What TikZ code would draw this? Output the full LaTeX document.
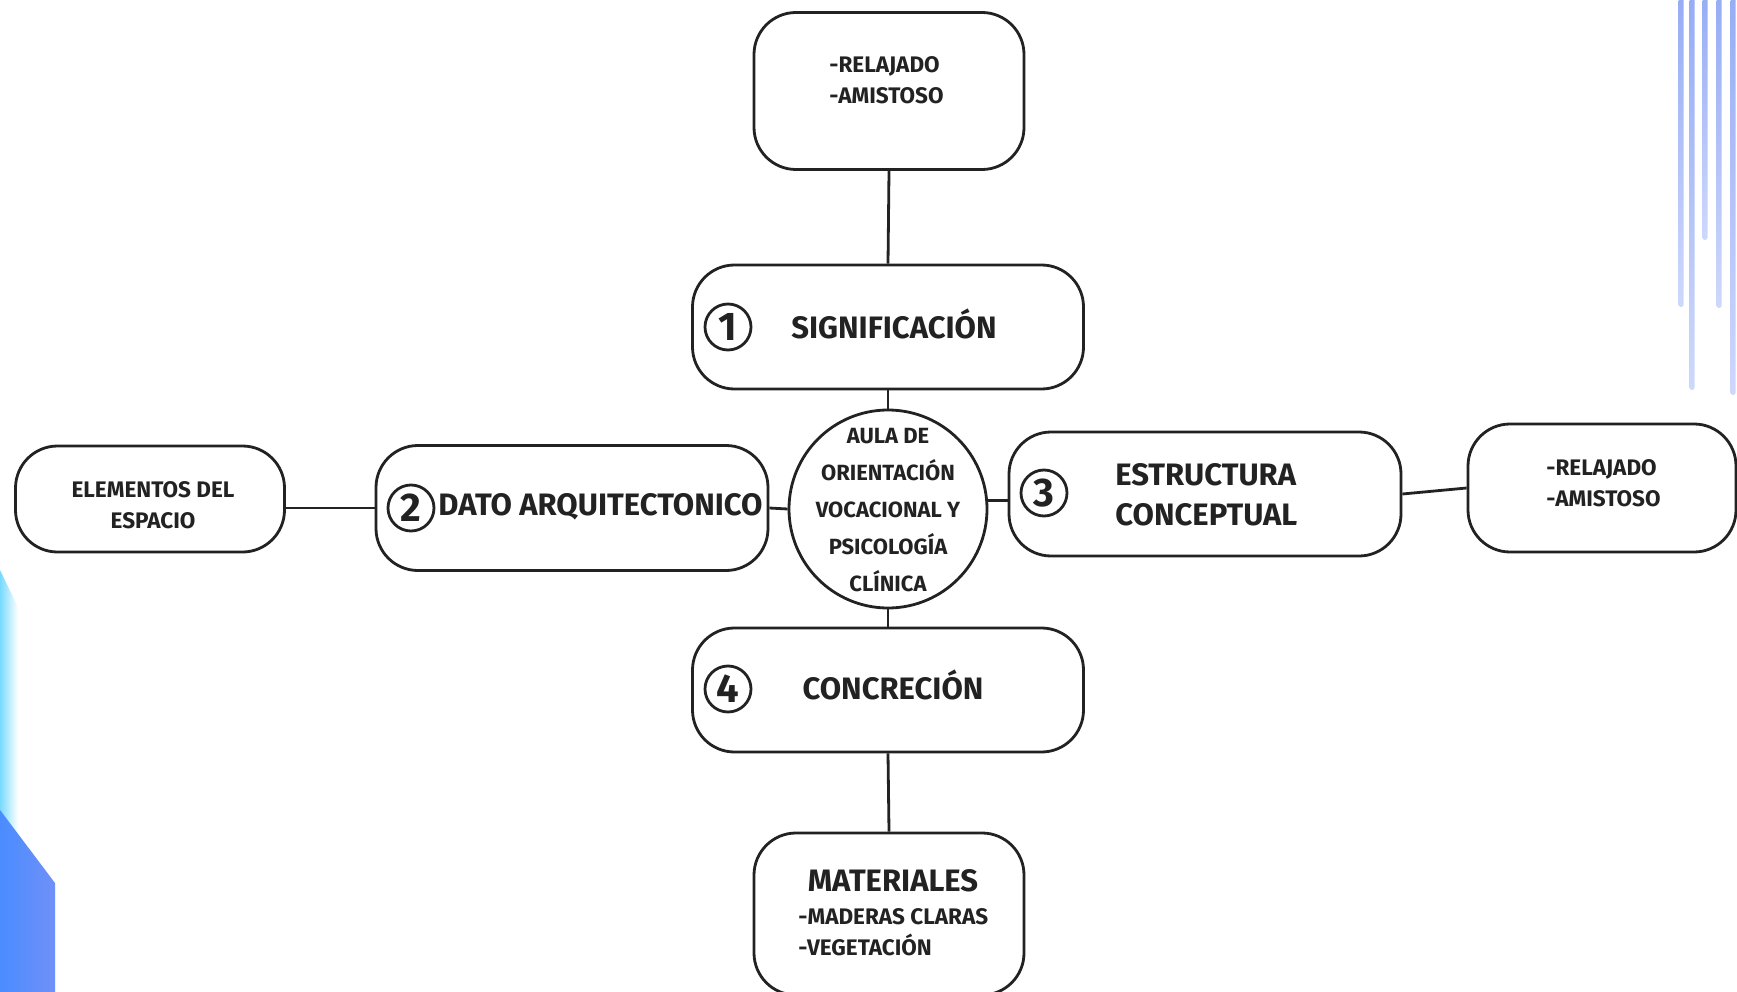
\documentclass[tikz,border=0pt]{standalone}
\usepackage{fontspec}
\setmainfont{Fira Sans}
\definecolor{ink}{RGB}{34,34,34}
\definecolor{barTop}{RGB}{150,172,245}
\definecolor{barBot}{RGB}{206,216,251}
\definecolor{cyanEdge}{RGB}{120,218,255}
\definecolor{blueA}{RGB}{74,140,255}
\definecolor{blueB}{RGB}{112,144,248}

\begin{document}
\begin{tikzpicture}[x=1pt, y=-1pt, line width=2.8pt, draw=ink,
  every node/.style={text=ink},
  box/.style={draw=ink, rounded corners=42pt, inner sep=0pt},
  num/.style={draw=ink, circle, line width=2.8pt, minimum size=46pt, inner sep=0pt, font=\bfseries\fontsize{40}{40}\selectfont},
  big/.style={font=\bfseries\fontsize{31}{40}\selectfont, inner sep=0pt},
  small/.style={font=\bfseries\fontsize{22.5}{31}\selectfont, inner sep=0pt, align=left},
  hub/.style={font=\bfseries\fontsize{22}{37}\selectfont, inner sep=0pt, align=center}]
\useasboundingbox (0,0) rectangle (1737,992);

% background shapes
\shade[left color=cyanEdge, right color=white] (0,570) -- (18,607) -- (18,900) -- (0,900) -- cycle;
\shade[left color=blueA, right color=blueB] (0,810) -- (55,883) -- (55,992) -- (0,992) -- cycle;
\foreach \x/\e in {1681/307,1692/390,1705/240,1719/308,1733/395}
  \shade[top color=barTop, bottom color=barBot, rounded corners=2.4pt] (\x-2.5,-6) rectangle (\x+2.5,\e);

% boxes
\node[box, minimum width=270pt, minimum height=157pt] (top) at (889,91) {};
\node[box, minimum width=391pt, minimum height=124pt] (sig) at (888,327) {};
\node[draw=ink, circle, minimum size=198pt, inner sep=0pt] (aula) at (888,509) {};
\node[box, minimum width=392pt, minimum height=125pt] (dato) at (572,508) {};
\node[box, minimum width=269pt, minimum height=106pt] (elem) at (150,499) {};
\node[box, minimum width=392pt, minimum height=124pt] (estr) at (1205,494) {};
\node[box, minimum width=268pt, minimum height=128pt] (right) at (1602,488) {};
\node[box, minimum width=391pt, minimum height=124pt] (conc) at (888,690) {};
\node[box, minimum width=270pt, minimum height=162pt] (mat) at (889,914) {};

% texts
\node[small, anchor=west] (topTxt) at (828,80) {-RELAJADO\\-AMISTOSO};
\node[num] (n1) at (728,327) {1};
\node[big] (sigTxt) at (894,324) {SIGNIFICACIÓN};
\node[hub] (aulaTxt) at (888,510) {AULA DE\\ORIENTACIÓN\\VOCACIONAL Y\\PSICOLOGÍA\\CLÍNICA};
\node[num] (n2) at (411,508) {2};
\node[big, anchor=west] (datoTxt) at (437,507) {DATO ARQUITECTONICO};
\node[small, align=center] (elemTxt) at (153,505) {ELEMENTOS DEL\\ESPACIO};
\node[num] (n3) at (1044,493) {3};
\node[big, anchor=west, align=left] (estrTxt) at (1114,495) {ESTRUCTURA\\CONCEPTUAL};
\node[small, anchor=west] (rightTxt) at (1545,483) {-RELAJADO\\-AMISTOSO};
\node[num] (n4) at (728,689) {4};
\node[big] (concTxt) at (893,685) {CONCRECIÓN};
\node[big] (matTxt) at (893,881) {MATERIALES};
\node[small, anchor=west] (matList) at (797,932) {-MADERAS CLARAS\\-VEGETACIÓN};

% connectors
\draw (top.south) -- (sig.north);
\draw (sig.south) -- (aula.north);
\draw (aula.south) -- (conc.north);
\draw (conc.south) -- (mat.north);
\draw (aula.west) -- (dato.east);
\draw (dato.west) -- (dato.west -| elem.east);
\draw (aula.5) -- (aula.5 -| estr.west);
\draw (estr.east) -- (right.west);
\end{tikzpicture}
\end{document}
